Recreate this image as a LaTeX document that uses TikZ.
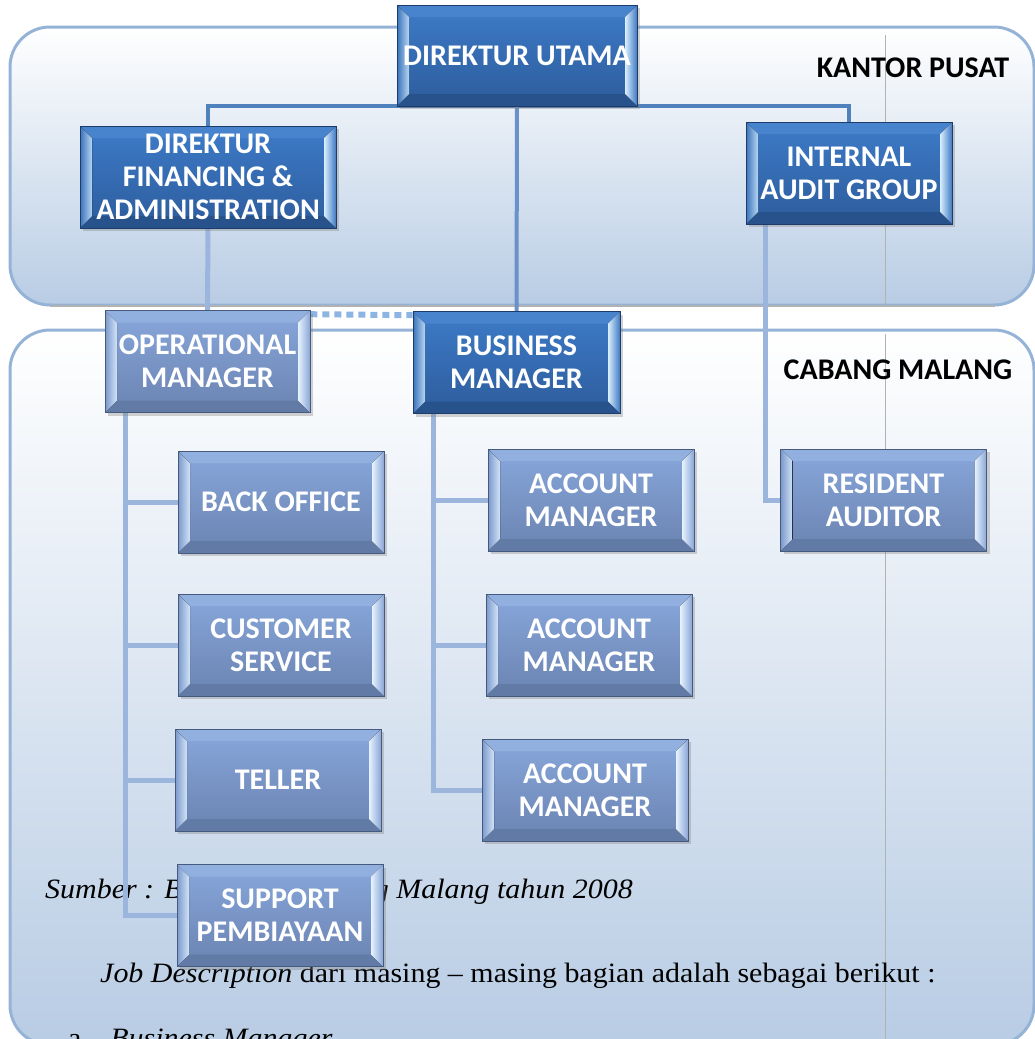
\documentclass[tikz,border=0pt]{standalone}
\usepackage{fontspec}
\usepackage{graphicx}
\setmainfont{Liberation Serif}
\newfontfamily\calfont{Carlito}
\usetikzlibrary{shadows}

\pgfdeclarelayer{panels}
\pgfdeclarelayer{lines}
\pgfsetlayers{panels,lines,main}

\definecolor{panelline}{HTML}{95B3D7}
\definecolor{panelbot}{HTML}{B8CCE4}
\definecolor{connblue}{HTML}{9BB5DC}
\definecolor{topblue}{HTML}{4F81BD}
\definecolor{midblue}{HTML}{6A91C8}
\definecolor{dashblue}{HTML}{8EB4E3}
% dark boxes
\definecolor{dkmaintop}{RGB}{61,123,200}
\definecolor{dkmainbot}{RGB}{45,92,156}
\definecolor{dkbevtop}{RGB}{72,132,206}
\definecolor{dkbevbot}{RGB}{40,82,140}
\definecolor{dkleftout}{RGB}{58,114,187}
\definecolor{dkleftin}{RGB}{183,215,243}
\definecolor{dkrightin}{RGB}{217,239,255}
\definecolor{dkrightout}{RGB}{63,121,194}
\definecolor{dkedge}{RGB}{30,60,105}
% light boxes
\definecolor{ltmaintop}{RGB}{136,167,219}
\definecolor{ltmainbot}{RGB}{106,131,177}
\definecolor{ltbevtop}{RGB}{145,176,224}
\definecolor{ltbevbot}{RGB}{98,122,166}
\definecolor{ltleftout}{RGB}{123,152,203}
\definecolor{ltleftin}{RGB}{210,228,247}
\definecolor{ltrightin}{RGB}{230,243,255}
\definecolor{ltrightout}{RGB}{138,166,214}
\definecolor{ltedge}{RGB}{70,90,125}

% bevel edges drawn inside a box
\newcommand\bevelfill[1]{%
  \coordinate (bnw) at (path picture bounding box.north west);
  \coordinate (bne) at (path picture bounding box.north east);
  \coordinate (bsw) at (path picture bounding box.south west);
  \coordinate (bse) at (path picture bounding box.south east);
  \fill[#1bevtop] (bnw) -- (bne) -- ([shift={(-12pt,-12pt)}]bne) -- ([shift={(12pt,-12pt)}]bnw) -- cycle;
  \fill[#1bevbot] (bsw) -- (bse) -- ([shift={(-12pt,12pt)}]bse) -- ([shift={(12pt,12pt)}]bsw) -- cycle;
  \fill[left color=#1leftout, right color=#1leftin] (bsw) -- (bnw) -- ([shift={(12pt,-12pt)}]bnw) -- ([shift={(12pt,12pt)}]bsw) -- cycle;
  \fill[left color=#1rightin, right color=#1rightout] (bse) -- (bne) -- ([shift={(-12pt,-12pt)}]bne) -- ([shift={(-12pt,12pt)}]bse) -- cycle;
}
\newcommand\wide[1]{\scalebox{1.07}[1]{#1}}

\tikzset{
  unit/.style={rectangle, minimum width=206pt, minimum height=102pt, inner sep=0pt,
    align=center, text=white, font=\calfont\bfseries\fontsize{30}{33}\selectfont,
    line width=0.6pt, drop shadow={shadow xshift=3pt, shadow yshift=-3pt, opacity=0.35}},
  darkunit/.style={unit, draw=dkedge, top color=dkmaintop, bottom color=dkmainbot,
    path picture={\bevelfill{dk}}},
  lightunit/.style={unit, draw=ltedge, top color=ltmaintop, bottom color=ltmainbot,
    path picture={\bevelfill{lt}}},
  panel/.style={draw=panelline, line width=3pt, rounded corners=40pt,
    top color=white, bottom color=panelbot},
  conn/.style={draw=connblue, line width=5pt},
  topconn/.style={draw=topblue, line width=4pt},
  midconn/.style={draw=midblue, line width=4pt},
  dashconn/.style={draw=dashblue, line width=6pt, dash pattern=on 7pt off 5pt},
  place/.style={text=black, font=\calfont\bfseries\fontsize{30}{33}\selectfont},
  body/.style={inner sep=0pt, font=\fontsize{28}{32}\selectfont}
}

\begin{document}
\begin{tikzpicture}[x=1pt,y=-1pt]
\clip (0,0) rectangle (1035,1039);

\begin{pgfonlayer}{panels}
\fill[white] (0,0) rectangle (1035,1039);
% office panels
\draw[panel] (10,27) rectangle (1034,305);
\draw[gray!60, line width=1.5pt] (50,306) -- (995,306);
\draw[panel] (10,330) rectangle (1034,1045);
\draw[gray!60, line width=0.5pt] (885,35) -- (885,304);
\draw[gray!60, line width=0.5pt] (885,334) -- (885,1039);
\end{pgfonlayer}

% boxes
\node[darkunit, minimum width=240pt, minimum height=101pt] (du) at (517,55.5) {DIREKTUR UTAMA};
\node[darkunit, minimum width=256pt] (dfa) at (208,177) {DIREKTUR\\FINANCING \&\\ADMINISTRATION};
\node[darkunit] (iag) at (849,173) {INTERNAL\\AUDIT GROUP};
\node[lightunit, minimum width=205pt] (om) at (207.5,361.5) {OPERATIONAL\\MANAGER};
\node[darkunit, minimum width=207pt] (bm) at (516.5,362.5) {BUSINESS\\MANAGER};

\node[lightunit] (bo) at (281,502) {BACK OFFICE};
\node[lightunit] (cs) at (281,645) {CUSTOMER\\SERVICE};
\node[lightunit] (tl) at (278,780) {TELLER};
\node[lightunit] (sp) at (280,915.5) {SUPPORT\\PEMBIAYAAN};
\node[lightunit] (am1) at (591,500) {ACCOUNT\\MANAGER};
\node[lightunit] (am2) at (589,645) {ACCOUNT\\MANAGER};
\node[lightunit] (am3) at (585,790) {ACCOUNT\\MANAGER};
\node[lightunit] (ra) at (883.5,500) {RESIDENT\\AUDITOR};

\node[place] (kp) at (913,68) {KANTOR PUSAT};
\node[place] (cm) at (898,370) {CABANG MALANG};

\begin{pgfonlayer}{lines}
% page text behind the chart
\node[body, anchor=base west] (src1) at (45,898) {\wide{\itshape Sumber : B}};
\node[body, anchor=base east] (src2) at (633,898) {\wide{\itshape g Malang tahun 2008}};
\node[body, anchor=base west] (job) at (100,982) {\wide{\textit{Job Description} dari masing -- masing bagian adalah sebagai berikut :}};
\node[body, anchor=base west] (itema) at (68,1047) {\wide{a.\hspace{20pt}\textit{Business Manager}}};
% connectors
\draw[topconn] (dfa.north) |- (du.south) -| (iag.north);
\draw[midconn] (du.south) -- (bm.north);
\draw[conn] (dfa.south) -- (om.north);
\draw[conn] ([xshift=20pt]iag.south west) |- (ra.west);
\draw[dashconn] ([yshift=-4pt]om.north east) -- ([yshift=-4pt]bm.north west);
\foreach \n in {bo,cs,tl,sp}
  \draw[conn] ([xshift=21pt]om.south west) |- (\n.west);
\foreach \n in {am1,am2,am3}
  \draw[conn] ([xshift=21pt]bm.south west) |- (\n.west);
\end{pgfonlayer}
\end{tikzpicture}
\end{document}
